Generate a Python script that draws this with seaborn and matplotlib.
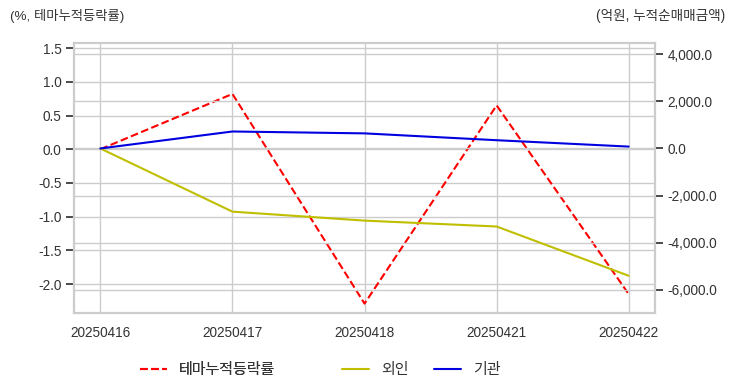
import matplotlib
matplotlib.use("Agg")
import matplotlib.pyplot as plt
import matplotlib.ticker as mticker
import seaborn as sns

dates = ["20250416", "20250417", "20250418", "20250421", "20250422"]
theme_rate = [0.0, 0.82, -2.29, 0.65, -2.15]
foreign = [0.0, -2680.0, -3060.0, -3310.0, -5400.0]
institution = [0.0, 720.0, 640.0, 350.0, 80.0]

sns.set_theme(style="whitegrid", color_codes=False)
plt.rcParams['font.family'] = ['Liberation Sans', 'Noto Sans CJK KR', 'DejaVu Sans']
plt.rcParams['axes.unicode_minus'] = False

fig = plt.figure(figsize=(7.32, 3.92), dpi=100)
ax1 = fig.add_axes([0.101, 0.2015, 0.794, 0.6885])
ax2 = ax1.twinx()

sns.lineplot(x=dates, y=theme_rate, ax=ax1, color="#ff0000", linestyle="--",
             linewidth=1.5, label="테마누적등락률", legend=False)
sns.lineplot(x=dates, y=foreign, ax=ax2, color="#bfbf00", linewidth=1.5,
             label="외인", legend=False)
sns.lineplot(x=dates, y=institution, ax=ax2, color="#0000e0", linewidth=1.5,
             label="기관", legend=False)

ax1.set_xlim(-0.2, 4.2)
ax1.set_ylim(-2.43, 1.574)
ax1.set_yticks([-2.0, -1.5, -1.0, -0.5, 0.0, 0.5, 1.0, 1.5])
ax1.yaxis.set_major_formatter(mticker.FormatStrFormatter("%.1f"))
ax2.set_ylim(-6979, 4468)
ax2.set_yticks([-6000, -4000, -2000, 0, 2000, 4000])
ax2.yaxis.set_major_formatter(mticker.FuncFormatter(lambda v, p: f"{v:,.1f}"))
ax2.grid(True, axis="y", color=".8")
ax2.grid(False, axis="x")

for ax in (ax1, ax2):
    ax.tick_params(labelsize=9.8, colors="#333333", pad=3)
    ax.set_xlabel("")
    ax.set_ylabel("")
    for s in ax.spines.values():
        s.set_color(".8")
        s.set_linewidth(1.5)

fig.text(10 / 732, 1 - 16 / 392, "(%, 테마누적등락률)", fontsize=9.6,
         color="#333333", va="center", ha="left")
fig.text(725 / 732, 1 - 16 / 392, "(억원, 누적순매매금액)", fontsize=9.8,
         color="#333333", va="center", ha="right")

h1, l1 = ax1.get_legend_handles_labels()
h2, l2 = ax2.get_legend_handles_labels()
leg1 = fig.legend(h1, l1, loc="center left", bbox_to_anchor=(126 / 732, 1 - 370 / 392),
                  frameon=False, fontsize=10.8, handlelength=1.8, handletextpad=0.85,
                  labelcolor="#333333")
leg2 = fig.legend(h2, l2, loc="center left", bbox_to_anchor=(328 / 732, 1 - 370 / 392),
                  frameon=False, fontsize=10.8, ncol=2, handlelength=1.8,
                  handletextpad=0.85, columnspacing=1.65, labelcolor="#333333")
fig.add_artist(leg1)

fig.savefig("out.png", dpi=100)
